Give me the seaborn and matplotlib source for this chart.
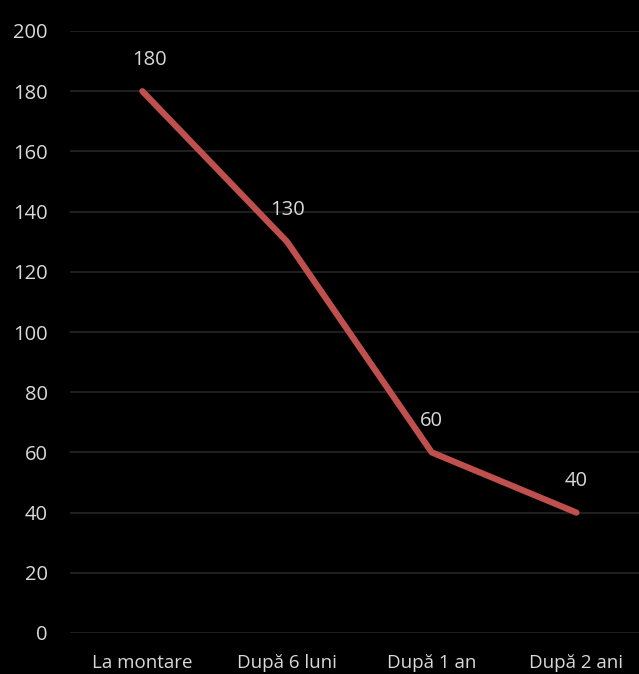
import matplotlib
matplotlib.use("Agg")
import matplotlib.pyplot as plt
import seaborn as sns
import pandas as pd

categories = ["La montare", "După 6 luni", "După 1 an", "După 2 ani"]
values = [180, 130, 60, 40]
yticks = [0, 20, 40, 60, 80, 100, 120, 140, 160, 180, 200]

sns.set_theme(style="dark")
plt.rcParams['font.family'] = ['Open Sans', 'DejaVu Sans']

df = pd.DataFrame({"cat": categories, "val": values})

W, H = 639, 674
fig = plt.figure(figsize=(W / 100, H / 100), dpi=100, facecolor="black")
left, right = 70, 70 + 4 * 144.7
top, bottom = 31, 633
ax = fig.add_axes([left / W, 1 - bottom / H, (right - left) / W, (bottom - top) / H])
ax.set_facecolor("black")

sns.lineplot(data=df, x="cat", y="val", ax=ax, color="#C0504D", linewidth=4.5,
             sort=False, solid_capstyle="round", solid_joinstyle="round")

for i, v in enumerate(values):
    ax.annotate(f"{v}", (i, v), xytext=(5 if i == 0 else 0, 22.5), textcoords="offset points",
                ha="center", va="center", color="#D9D9D9", fontsize=14.5)

ax.set_xlim(-0.5, 3.5)
ax.set_ylim(0, 200)
ax.set_yticks(yticks)
ax.set_yticklabels([str(t) for t in yticks])
ax.grid(axis="y", color="#262626", linewidth=1.2)
ax.grid(axis="x", visible=False)
for s in ax.spines.values():
    s.set_visible(False)
ax.tick_params(axis="both", colors="#D9D9D9", length=0)
ax.tick_params(axis="y", pad=16, labelsize=14.5)
ax.tick_params(axis="x", pad=15, labelsize=13.5)
ax.set_xlabel("")
ax.set_ylabel("")

fig.savefig("out.png", dpi=100, facecolor="black")
